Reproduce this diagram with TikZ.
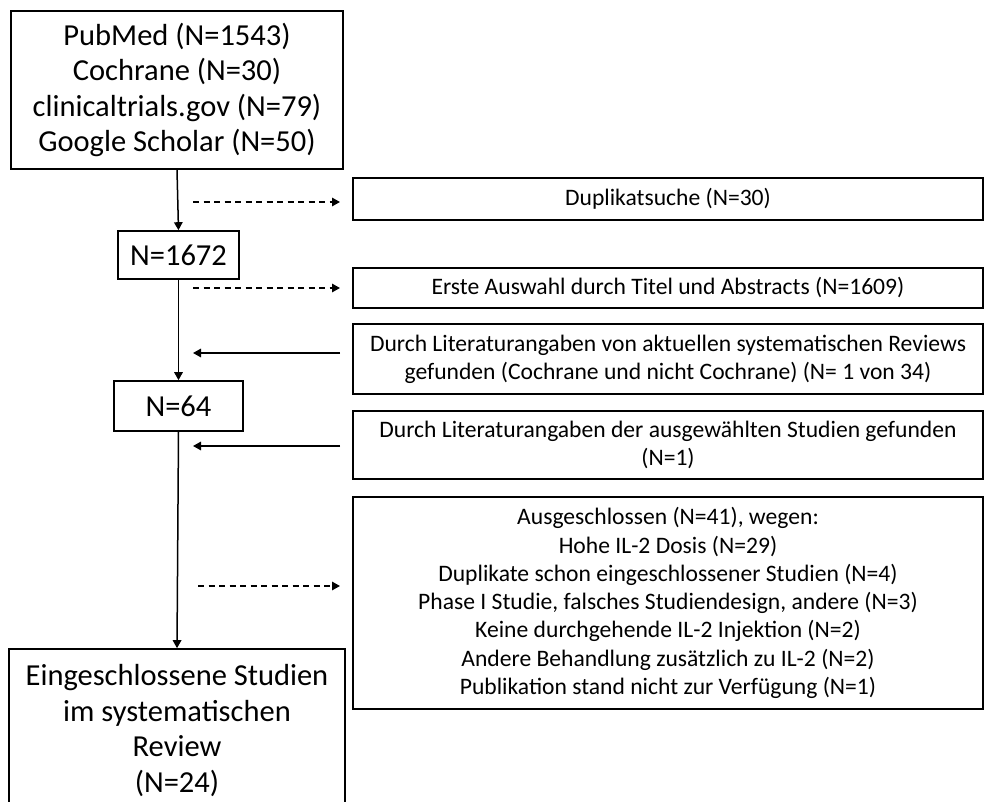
\documentclass[tikz,border=0pt]{standalone}
\usepackage{fontspec}
\setmainfont{Carlito}
\usetikzlibrary{arrows.meta}
\tikzset{
  bigbox/.style={draw=black, line width=1.6pt, inner sep=0pt, align=center,
    font=\fontsize{30.5}{35.6}\selectfont},
  sidebox/.style={draw=black, line width=1.6pt, inner sep=0pt, align=center,
    minimum width=630pt, font=\fontsize{23.6}{28.3}\selectfont},
  flow/.style={line width=1.5pt, -{Triangle[length=8pt,width=8.5pt]}},
  dasharrow/.style={line width=1.5pt, dash pattern=on 6pt off 4.5pt, -{Triangle[length=8pt,width=8.5pt]}},
}
\begin{document}
\begin{tikzpicture}[x=1pt,y=-1pt]
\useasboundingbox (0,0) rectangle (986,802);
\clip (0,0) rectangle (986,802);
% left column
\node[bigbox, minimum width=332pt, minimum height=158pt] (src) at (177,90)
  {PubMed (N=1543)\\Cochrane (N=30)\\clinicaltrials.gov (N=79)\\Google Scholar (N=50)};
\node[bigbox, minimum width=121pt, minimum height=48pt] (n1672) at (178.5,255) {N=1672};
\node[bigbox, minimum width=129pt, minimum height=50pt] (n64) at (178.5,406) {N=64};
\node[bigbox, minimum width=336pt, minimum height=163pt] (final) at (177,730.5)
  {Eingeschlossene Studien\\im systematischen\\Review\\(N=24)};
% right column
\node[sidebox, minimum height=42pt] (dup) at (668,199) {Duplikatsuche (N=30)};
\node[sidebox, minimum height=40pt] (erste) at (668,288) {Erste Auswahl durch Titel und Abstracts (N=1609)};
\node[sidebox, minimum height=70pt] (lit1) at (668,359)
  {Durch Literaturangaben von aktuellen systematischen Reviews\\gefunden (Cochrane und nicht Cochrane) (N= 1 von 34)};
\node[sidebox, minimum height=68pt] (lit2) at (668,445)
  {Durch Literaturangaben der ausgewählten Studien gefunden\\(N=1)};
\node[sidebox, minimum height=212pt] (excl) at (668,603)
  {Ausgeschlossen (N=41), wegen:\\Hohe IL-2 Dosis (N=29)\\Duplikate schon eingeschlossener Studien (N=4)\\Phase I Studie, falsches Studiendesign, andere (N=3)\\Keine durchgehende IL-2 Injektion (N=2)\\Andere Behandlung zusätzlich zu IL-2 (N=2)\\Publikation stand nicht zur Verfügung (N=1)};
% free-end coordinates
\coordinate (d1s) at (193,202);
\coordinate (d1e) at (340,202);
\coordinate (d2s) at (193,288);
\coordinate (d2e) at (340,288);
\coordinate (d3s) at (198,586);
\coordinate (d3e) at (340,586);
\coordinate (a1s) at (340,353);
\coordinate (a1e) at (193,353);
\coordinate (a2s) at (340,446);
\coordinate (a2e) at (193,446);
% main flow
\draw[flow] (src.south) -- (n1672.north);
\draw[flow] (n1672.south) -- (n64.north);
\draw[flow] (n64.south) -- (final.north);
% side arrows
\draw[dasharrow] (d1s) -- (d1e);
\draw[dasharrow] (d2s) -- (d2e);
\draw[dasharrow] (d3s) -- (d3e);
\draw[flow] (a1s) -- (a1e);
\draw[flow] (a2s) -- (a2e);
\end{tikzpicture}
\end{document}
